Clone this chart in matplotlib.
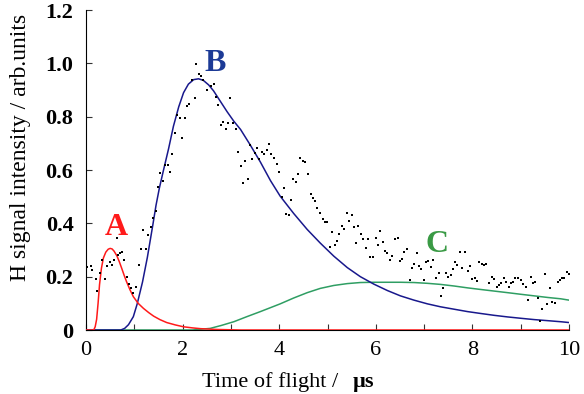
import numpy as np
import matplotlib
matplotlib.use("Agg")
import matplotlib.pyplot as plt
from matplotlib.ticker import MultipleLocator

# measured points (time of flight / us, signal)
t_data = [0.00, 0.03, 0.10, 0.13, 0.20, 0.23, 0.28, 0.34, 0.39, 0.44, 0.49, 0.54, 0.58, 0.64, 0.66,
          0.71, 0.75, 0.79, 0.84, 0.88, 0.93, 0.98, 1.04, 1.10, 1.13, 1.19, 1.25, 1.29, 1.34, 1.39,
          1.45, 1.49, 1.54, 1.59, 1.64, 1.70, 1.74, 1.79, 1.85, 1.88, 1.95, 1.99, 2.05, 2.09, 2.14,
          2.19, 2.25, 2.28, 2.34, 2.38, 2.43, 2.50, 2.59, 2.64, 2.70, 2.74, 2.79, 2.84, 2.90, 2.94,
          2.99, 3.04, 3.10, 3.14, 3.20, 3.25, 3.29, 3.35, 3.39, 3.44, 3.49, 3.54, 3.58, 3.64, 3.69,
          3.74, 3.79, 3.84, 3.90, 3.95, 4.00, 4.05, 4.09, 4.14, 4.20, 4.24, 4.29, 4.34, 4.39, 4.44,
          4.50, 4.54, 4.59, 4.65, 4.69, 4.75, 4.79, 4.84, 4.90, 4.94, 4.98, 5.05, 5.09, 5.15, 5.19,
          5.24, 5.30, 5.35, 5.40, 5.44, 5.50, 5.54, 5.60, 5.64, 5.69, 5.74, 5.79, 5.84, 5.89, 5.95,
          6.00, 6.04, 6.09, 6.14, 6.19, 6.24, 6.29, 6.34, 6.39, 6.45, 6.50, 6.55, 6.58, 6.64, 6.70,
          6.74, 6.79, 6.85, 6.89, 6.94, 7.00, 7.04, 7.09, 7.14, 7.18, 7.25, 7.30, 7.34, 7.39, 7.45,
          7.50, 7.55, 7.59, 7.63, 7.69, 7.75, 7.79, 7.84, 7.90, 7.95, 8.00, 8.05, 8.09, 8.14, 8.19,
          8.24, 8.29, 8.35, 8.40, 8.45, 8.50, 8.55, 8.60, 8.65, 8.70, 8.76, 8.80, 8.85, 8.89, 8.95,
          9.00, 9.05, 9.11, 9.15, 9.21, 9.25, 9.30, 9.35, 9.40, 9.45, 9.50, 9.54, 9.60, 9.65, 9.70,
          9.77, 9.81, 9.85, 9.90, 9.96, 10.0]
v_data = [0.190, 0.235, 0.240, 0.225, 0.190, 0.147, 0.215, 0.262, 0.190, 0.240, 0.255, 0.243, 0.262, 0.344, 0.281,
          0.288, 0.291, 0.262, 0.200, 0.172, 0.156, 0.137, 0.162, 0.244, 0.302, 0.375, 0.302, 0.356, 0.385, 0.420,
          0.446, 0.535, 0.588, 0.560, 0.619, 0.619, 0.594, 0.659, 0.738, 0.806, 0.794, 0.719, 0.794, 0.841, 0.847,
          0.936, 0.869, 0.999, 0.959, 0.954, 0.939, 0.900, 0.916, 0.922, 0.873, 0.844, 0.769, 0.781, 0.754, 0.775,
          0.869, 0.775, 0.754, 0.669, 0.616, 0.550, 0.635, 0.565, 0.695, 0.640, 0.662, 0.681, 0.640, 0.669, 0.660,
          0.675, 0.699, 0.660, 0.644, 0.622, 0.594, 0.498, 0.531, 0.434, 0.431, 0.487, 0.565, 0.555, 0.584, 0.646,
          0.634, 0.631, 0.585, 0.509, 0.494, 0.484, 0.456, 0.440, 0.415, 0.405, 0.405, 0.310, 0.369, 0.319, 0.335,
          0.360, 0.391, 0.378, 0.437, 0.407, 0.431, 0.387, 0.327, 0.391, 0.360, 0.340, 0.306, 0.340, 0.274, 0.274,
          0.344, 0.319, 0.372, 0.331, 0.296, 0.288, 0.262, 0.277, 0.340, 0.344, 0.259, 0.265, 0.291, 0.302, 0.187,
          0.231, 0.247, 0.288, 0.240, 0.228, 0.187, 0.256, 0.260, 0.237, 0.262, 0.194, 0.212, 0.127, 0.156, 0.212,
          0.200, 0.206, 0.228, 0.256, 0.244, 0.291, 0.231, 0.291, 0.222, 0.240, 0.190, 0.194, 0.185, 0.256, 0.247,
          0.244, 0.247, 0.178, 0.200, 0.190, 0.162, 0.169, 0.178, 0.196, 0.179, 0.160, 0.175, 0.181, 0.194, 0.194,
          0.187, 0.171, 0.160, 0.112, 0.200, 0.175, 0.181, 0.119, 0.035, 0.079, 0.210, 0.097, 0.156, 0.106, 0.102,
          0.179, 0.187, 0.196, 0.196, 0.216, 0.209]

# fitted component A
t_a = [0.0, 0.16, 0.19, 0.22, 0.25, 0.28, 0.32, 0.36, 0.41, 0.46, 0.50, 0.54, 0.58, 0.64, 0.69, 0.74, 0.79,
       0.84, 0.91, 0.98, 1.08, 1.19, 1.30, 1.40, 1.53, 1.67, 1.85, 2.02, 2.20, 2.37, 2.70, 3.2, 10.0]
v_a = [0.0, 0.0, 0.012, 0.040, 0.100, 0.170, 0.232, 0.270, 0.292, 0.303, 0.306, 0.304, 0.296, 0.278, 0.256, 0.231, 0.205,
       0.181, 0.151, 0.125, 0.100, 0.081, 0.065, 0.052, 0.039, 0.028, 0.019, 0.012, 0.008, 0.005, 0.002, 0.0, 0.0]

# fitted component B
t_b = [0.0, 0.72, 0.80, 0.88, 0.98, 1.06, 1.17, 1.27, 1.38, 1.45, 1.52, 1.60, 1.71, 1.81, 1.92, 2.02, 2.12, 2.23,
       2.33, 2.43, 2.54, 2.64, 2.78, 2.92, 3.06, 3.20, 3.40, 3.61, 3.82, 4.02, 4.30, 4.58, 4.85, 5.13, 5.41,
       5.68, 5.96, 6.24, 6.51, 6.79, 7.07, 7.34, 7.62, 7.90, 8.17, 8.45, 8.73, 9.00, 9.28, 9.56, 9.83, 10.0]
v_b = [0.0, 0.0, 0.006, 0.020, 0.050, 0.098, 0.180, 0.272, 0.390, 0.468, 0.533, 0.596, 0.680, 0.764, 0.837, 0.890, 0.922,
       0.939, 0.942, 0.936, 0.919, 0.897, 0.858, 0.819, 0.783, 0.752, 0.694, 0.630, 0.560, 0.502, 0.437, 0.377, 0.326,
       0.277, 0.234, 0.200, 0.172, 0.148, 0.128, 0.112, 0.098, 0.087, 0.078, 0.069, 0.062, 0.055, 0.049, 0.044, 0.039,
       0.035, 0.031, 0.028]

# fitted component C
t_c = [0.0, 2.2, 2.57, 2.80, 3.06, 3.33, 3.61, 4.02, 4.30, 4.58, 4.85, 5.13, 5.41, 5.68, 5.96, 6.24, 6.51, 6.79,
       7.07, 7.34, 7.62, 7.90, 8.17, 8.45, 8.73, 9.00, 9.28, 9.56, 9.83, 10.0]
v_c = [0.0, 0.0, 0.006, 0.017, 0.031, 0.050, 0.069, 0.098, 0.120, 0.140, 0.156, 0.167, 0.174, 0.178, 0.179, 0.179,
       0.179, 0.178, 0.175, 0.171, 0.165, 0.158, 0.152, 0.146, 0.140, 0.134, 0.128, 0.122, 0.117, 0.112]

x_ticks = [0, 2, 4, 6, 8, 10]
y_ticks = [0, 0.2, 0.4, 0.6, 0.8, 1.0, 1.2]
y_ticklabels = ["0", "0.2", "0.4", "0.6", "0.8", "1.0", "1.2"]

serif = ["Liberation Serif", "DejaVu Serif"]
red = "#ff1a1a"
blue = "#18188c"
green = "#2f9e63"

fig = plt.figure(figsize=(5.84, 3.94), dpi=100)
ax = fig.add_axes([86 / 584, 1 - 330 / 394, 483 / 584, 320 / 394])

ax.plot(t_c, v_c, color=green, lw=1.1, zorder=2)
ax.plot(t_b, v_b, color=blue, lw=1.1, zorder=3)
ax.plot(t_a, v_a, color=red, lw=1.1, zorder=4)
ax.plot(t_data, v_data, "s", color="black", ms=2.1, mew=0, zorder=5)

ax.text(0.63, 0.385, "A", color=red, fontsize=23, fontweight="bold", family=serif, ha="center", va="center")
ax.text(2.68, 1.0, "B", color="#1c3a96", fontsize=23, fontweight="bold", family=serif, ha="center", va="center")
ax.text(7.27, 0.322, "C", color="#3a9a45", fontsize=23, fontweight="bold", family=serif, ha="center", va="center")

ax.set_xlim(0, 10)
ax.set_ylim(0, 1.2)
ax.set_xticks(x_ticks)
ax.xaxis.set_minor_locator(MultipleLocator(1))
ax.set_yticks(y_ticks)
ax.set_yticklabels(y_ticklabels)
ax.tick_params(axis="both", which="both", direction="in", length=4, width=0.8, color="#333333")
ax.tick_params(axis="x", pad=8)
ax.tick_params(axis="y", pad=9)
for lab in ax.get_xticklabels():
    lab.set_family(serif)
    lab.set_fontsize(16)
for lab in ax.get_yticklabels():
    lab.set_family(serif)
    lab.set_fontsize(16)
    lab.set_fontweight("bold")

for side in ["top", "right"]:
    ax.spines[side].set_visible(False)
ax.spines["left"].set_linewidth(0.8)
ax.spines["bottom"].set_linewidth(0.8)

ax.set_ylabel("H signal intensity / arb.units", family=serif, fontsize=17)
ax.yaxis.set_label_coords(-0.114, 0.569)

ax.text(0.522, -0.178, "Time of flight /", transform=ax.transAxes, family=serif, fontsize=16,
        ha="right", va="baseline")
ax.text(0.553, -0.178, "µs", transform=ax.transAxes, family=serif, fontsize=16, fontweight="bold",
        ha="left", va="baseline")

fig.savefig("out.png", dpi=100)
